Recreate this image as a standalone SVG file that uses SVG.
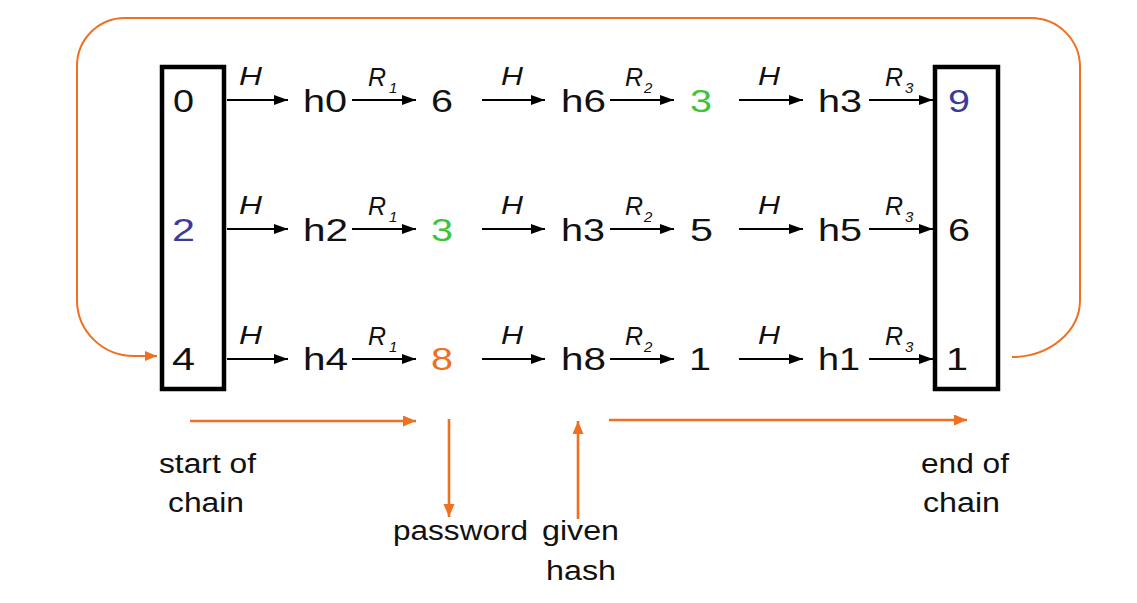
<svg xmlns="http://www.w3.org/2000/svg" width="1137" height="603" viewBox="0 0 1137 603">
<style>
.v{font-family:"Liberation Sans",Arial,sans-serif;font-size:31px;fill:#111}
.lb{font-family:"Liberation Sans",Arial,sans-serif;font-size:25px;font-style:italic;fill:#111}
.sb{font-family:"Liberation Sans",Arial,sans-serif;font-size:15px;font-style:italic;fill:#111}
.t{font-family:"Liberation Sans",Arial,sans-serif;font-size:27px;fill:#111}
.g{fill:#3cc43c}
.b{fill:#3a3a9c}
.o{fill:#ee7020}
.box{fill:none;stroke:#000;stroke-width:4.5}
.ar{stroke:#000;stroke-width:2;fill:none;marker-end:url(#ah)}
.oa{stroke:#ee7020;stroke-width:2.6;fill:none;marker-end:url(#oh)}
.loop{stroke:#ee7020;stroke-width:2;fill:none;marker-end:url(#oh2)}
</style>
<defs>
<marker id="ah" markerUnits="userSpaceOnUse" markerWidth="15" markerHeight="11" refX="14" refY="5" orient="auto"><path d="M0,0 L14,5 L0,10 z" fill="#000"/></marker>
<marker id="oh" markerUnits="userSpaceOnUse" markerWidth="14" markerHeight="12" refX="13" refY="5.5" orient="auto"><path d="M0,0 L13,5.5 L0,11 z" fill="#ee7020"/></marker>
<marker id="oh2" markerUnits="userSpaceOnUse" markerWidth="13" markerHeight="11" refX="12" refY="5" orient="auto"><path d="M0,0 L12,5 L0,10 z" fill="#ee7020"/></marker>
</defs>
<rect width="1137" height="603" fill="#fff"/>

<g id="connectors">
<path class="loop" d="M1012,357 A68,57 0 0 0 1080,300 V67 A49,49 0 0 0 1031,18 H125 A48,48 0 0 0 77,66 V300 A57,56 0 0 0 134,356 H157"/>
<g id="row1-arrows">
<line class="ar" x1="227" y1="100" x2="288" y2="100"/>
<line class="ar" x1="352" y1="100" x2="416" y2="100"/>
<line class="ar" x1="482" y1="100" x2="545" y2="100"/>
<line class="ar" x1="610" y1="100" x2="674" y2="100"/>
<line class="ar" x1="739" y1="100" x2="803" y2="100"/>
<line class="ar" x1="869" y1="100" x2="933" y2="100"/>
</g>
<g id="row2-arrows">
<line class="ar" x1="227" y1="229" x2="288" y2="229"/>
<line class="ar" x1="352" y1="229" x2="416" y2="229"/>
<line class="ar" x1="482" y1="229" x2="545" y2="229"/>
<line class="ar" x1="610" y1="229" x2="674" y2="229"/>
<line class="ar" x1="739" y1="229" x2="803" y2="229"/>
<line class="ar" x1="869" y1="229" x2="933" y2="229"/>
</g>
<g id="row3-arrows">
<line class="ar" x1="227" y1="359" x2="288" y2="359"/>
<line class="ar" x1="352" y1="359" x2="416" y2="359"/>
<line class="ar" x1="482" y1="359" x2="545" y2="359"/>
<line class="ar" x1="610" y1="359" x2="674" y2="359"/>
<line class="ar" x1="739" y1="359" x2="803" y2="359"/>
<line class="ar" x1="869" y1="359" x2="933" y2="359"/>
</g>
<g id="arrow-labels">
<text class="lb" x="239" y="85" textLength="23" lengthAdjust="spacingAndGlyphs">H</text>
<text class="lb" x="501" y="85" textLength="22" lengthAdjust="spacingAndGlyphs">H</text>
<text class="lb" x="758" y="85" textLength="22" lengthAdjust="spacingAndGlyphs">H</text>
<text class="lb" x="368" y="86" textLength="18" lengthAdjust="spacingAndGlyphs">R</text><text class="sb" x="389" y="93">1</text>
<text class="lb" x="625" y="86" textLength="18" lengthAdjust="spacingAndGlyphs">R</text><text class="sb" x="644" y="93">2</text>
<text class="lb" x="885" y="86" textLength="18" lengthAdjust="spacingAndGlyphs">R</text><text class="sb" x="905" y="93">3</text>

<text class="lb" x="239" y="214" textLength="23" lengthAdjust="spacingAndGlyphs">H</text>
<text class="lb" x="501" y="214" textLength="22" lengthAdjust="spacingAndGlyphs">H</text>
<text class="lb" x="758" y="214" textLength="22" lengthAdjust="spacingAndGlyphs">H</text>
<text class="lb" x="368" y="215" textLength="18" lengthAdjust="spacingAndGlyphs">R</text><text class="sb" x="389" y="222">1</text>
<text class="lb" x="625" y="215" textLength="18" lengthAdjust="spacingAndGlyphs">R</text><text class="sb" x="644" y="222">2</text>
<text class="lb" x="885" y="215" textLength="18" lengthAdjust="spacingAndGlyphs">R</text><text class="sb" x="905" y="222">3</text>

<text class="lb" x="239" y="344" textLength="23" lengthAdjust="spacingAndGlyphs">H</text>
<text class="lb" x="501" y="344" textLength="22" lengthAdjust="spacingAndGlyphs">H</text>
<text class="lb" x="758" y="344" textLength="22" lengthAdjust="spacingAndGlyphs">H</text>
<text class="lb" x="368" y="345" textLength="18" lengthAdjust="spacingAndGlyphs">R</text><text class="sb" x="389" y="352">1</text>
<text class="lb" x="625" y="345" textLength="18" lengthAdjust="spacingAndGlyphs">R</text><text class="sb" x="644" y="352">2</text>
<text class="lb" x="885" y="345" textLength="18" lengthAdjust="spacingAndGlyphs">R</text><text class="sb" x="905" y="352">3</text>
</g>
<g id="annotation-arrows">
<line class="oa" x1="190" y1="421" x2="416" y2="421"/>
<line class="oa" x1="449" y1="419" x2="449" y2="517"/>
<line class="oa" x1="578" y1="519" x2="578" y2="421"/>
<line class="oa" x1="609" y1="420" x2="967" y2="420"/>
</g>
</g>

<g id="start-box">
<rect class="box" x="162" y="67" width="62" height="322"/>
<text class="v" x="173" y="112" textLength="21" lengthAdjust="spacingAndGlyphs">0</text>
<text class="v b" x="172" y="241" textLength="23" lengthAdjust="spacingAndGlyphs">2</text>
<text class="v" x="172" y="370" textLength="23" lengthAdjust="spacingAndGlyphs">4</text>
</g>
<g id="end-box">
<rect class="box" x="935" y="67" width="63" height="322"/>
<text class="v b" x="948" y="112" textLength="22" lengthAdjust="spacingAndGlyphs">9</text>
<text class="v" x="948" y="241" textLength="22" lengthAdjust="spacingAndGlyphs">6</text>
<text class="v" x="946" y="370" textLength="22" lengthAdjust="spacingAndGlyphs">1</text>
</g>

<g id="row1">
<g id="n-h0"><text class="v" x="303" y="112" textLength="44" lengthAdjust="spacingAndGlyphs">h0</text></g>
<g id="n-6"><text class="v" x="431" y="112" textLength="22" lengthAdjust="spacingAndGlyphs">6</text></g>
<g id="n-h6"><text class="v" x="561" y="112" textLength="45" lengthAdjust="spacingAndGlyphs">h6</text></g>
<g id="n-3a"><text class="v g" x="690" y="112" textLength="22" lengthAdjust="spacingAndGlyphs">3</text></g>
<g id="n-h3a"><text class="v" x="818" y="112" textLength="44" lengthAdjust="spacingAndGlyphs">h3</text></g>
</g>
<g id="row2">
<g id="n-h2"><text class="v" x="303" y="241" textLength="45" lengthAdjust="spacingAndGlyphs">h2</text></g>
<g id="n-3b"><text class="v g" x="431" y="241" textLength="22" lengthAdjust="spacingAndGlyphs">3</text></g>
<g id="n-h3b"><text class="v" x="561" y="241" textLength="44" lengthAdjust="spacingAndGlyphs">h3</text></g>
<g id="n-5"><text class="v" x="690" y="241" textLength="23" lengthAdjust="spacingAndGlyphs">5</text></g>
<g id="n-h5"><text class="v" x="818" y="241" textLength="44" lengthAdjust="spacingAndGlyphs">h5</text></g>
</g>
<g id="row3">
<g id="n-h4"><text class="v" x="303" y="370" textLength="45" lengthAdjust="spacingAndGlyphs">h4</text></g>
<g id="n-8"><text class="v o" x="431" y="370" textLength="22" lengthAdjust="spacingAndGlyphs">8</text></g>
<g id="n-h8"><text class="v" x="561" y="370" textLength="45" lengthAdjust="spacingAndGlyphs">h8</text></g>
<g id="n-1"><text class="v" x="689" y="370" textLength="22" lengthAdjust="spacingAndGlyphs">1</text></g>
<g id="n-h1"><text class="v" x="818" y="370" textLength="42" lengthAdjust="spacingAndGlyphs">h1</text></g>
</g>

<g id="labels">
<g id="l-start"><text class="t" x="159" y="473" textLength="97" lengthAdjust="spacingAndGlyphs">start of</text>
<text class="t" x="168" y="512" textLength="76" lengthAdjust="spacingAndGlyphs">chain</text></g>
<g id="l-end"><text class="t" x="921" y="473" textLength="88" lengthAdjust="spacingAndGlyphs">end of</text>
<text class="t" x="923" y="512" textLength="77" lengthAdjust="spacingAndGlyphs">chain</text></g>
<g id="l-password"><text class="t" x="393" y="540" textLength="135" lengthAdjust="spacingAndGlyphs">password</text></g>
<g id="l-hash"><text class="t" x="542" y="540" textLength="77" lengthAdjust="spacingAndGlyphs">given</text>
<text class="t" x="546" y="580" textLength="70" lengthAdjust="spacingAndGlyphs">hash</text></g>
</g>
</svg>
